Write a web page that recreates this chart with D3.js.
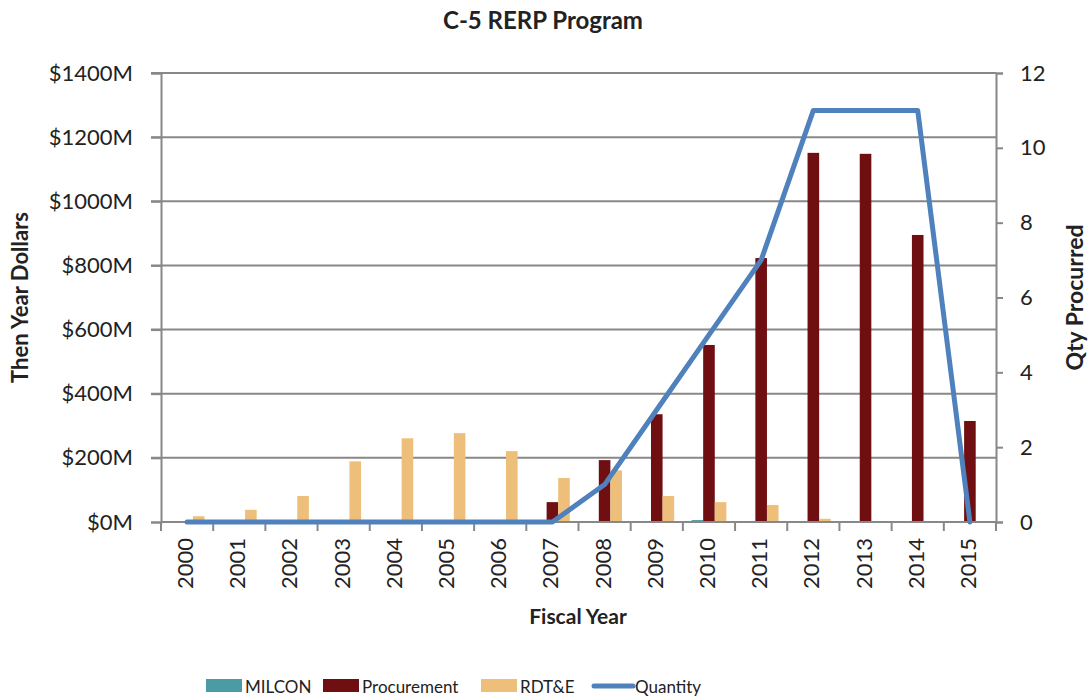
<!DOCTYPE html>
<html>
<head>
<meta charset="utf-8">
<script src="https://cdn.jsdelivr.net/npm/d3@7"></script>
<style>
  body { margin: 0; background: #fff; }
  svg text { font-family: Lato, "Open Sans", sans-serif; fill: #222; }
</style>
</head>
<body>
<svg width="1088" height="696"></svg>
<script>
const years = ["2000","2001","2002","2003","2004","2005","2006","2007","2008","2009","2010","2011","2012","2013","2014","2015"];
const milcon = [0,0,0,0,0,0,0,0,0,0,6,0,0,0,0,0];
const procurement = [0,0,0,0,0,0,0,62,193,336,552,823,1151,1148,895,315];
const rdte = [18,38,81,189,261,277,221,137,161,81,62,53,10,0,0,0];
const quantity = [0,0,0,0,0,0,0,0,1,3,5,7,11,11,11,0];
const dollarTicks = [0,200,400,600,800,1000,1200,1400];
const qtyTicks = [0,2,4,6,8,10,12];

const seriesNames = ["MILCON", "Procurement", "RDT&E"];
const seriesValues = [milcon, procurement, rdte];
const colors = {MILCON: "#4a9ba4", Procurement: "#6f0f12", "RDT&E": "#eebf7a", Quantity: "#4f81bd"};

const svg = d3.select('svg');
const margin = {left: 161, right: 92, top: 73, bottom: 174};
const width = 1088 - margin.left - margin.right;
const height = 696 - margin.top - margin.bottom;
const g = svg.append('g').attr('transform', `translate(${margin.left},${margin.top})`);

const x = d3.scaleBand().domain(years).range([0, width]);
const xInner = d3.scaleBand().domain(seriesNames).range([0, x.bandwidth() * 3 / 4.5]);
const y = d3.scaleLinear().domain([0, 1400]).range([height, 0]);
const yQ = d3.scaleLinear().domain([0, 12]).range([height, 0]);

const gridColor = '#888';

// gridlines
g.selectAll('line.grid').data(dollarTicks.filter(d => d > 0))
  .enter().append('line')
  .attr('class', 'grid')
  .attr('x1', -10).attr('x2', width)
  .attr('y1', d => y(d)).attr('y2', d => y(d))
  .attr('stroke', gridColor).attr('stroke-width', 2);

// left axis
const yAxis = g.append('g')
  .call(d3.axisLeft(y).tickValues(dollarTicks).tickSize(10).tickPadding(18).tickFormat(d => `$${d}M`));
yAxis.select('.domain').attr('stroke', gridColor).attr('stroke-width', 2);
yAxis.selectAll('line').attr('stroke', gridColor).attr('stroke-width', 2);
yAxis.selectAll('text').style('font-size', '22px').attr('fill', '#222');

// right axis
const yAxisR = g.append('g').attr('transform', `translate(${width},0)`)
  .call(d3.axisRight(yQ).tickValues(qtyTicks).tickSize(7).tickPadding(17));
yAxisR.select('.domain').attr('stroke', gridColor).attr('stroke-width', 2);
yAxisR.selectAll('line').attr('stroke', gridColor).attr('stroke-width', 2);
yAxisR.selectAll('text').style('font-size', '22px').attr('fill', '#222');

// bars
const groups = g.selectAll('g.year').data(years)
  .enter().append('g')
  .attr('class', 'year')
  .attr('transform', d => `translate(${x(d) + (x.bandwidth() - xInner.range()[1]) / 2},0)`);

groups.selectAll('rect')
  .data((d, i) => seriesNames.map((s, j) => ({series: s, value: seriesValues[j][i]})))
  .enter().append('rect')
  .attr('x', d => xInner(d.series))
  .attr('width', xInner.bandwidth())
  .attr('y', d => y(d.value))
  .attr('height', d => height - y(d.value))
  .attr('fill', d => colors[d.series]);

// x axis
const xAxis = g.append('g').attr('transform', `translate(0,${height})`);
xAxis.append('line').attr('x1', 0).attr('x2', width)
  .attr('stroke', gridColor).attr('stroke-width', 2);
xAxis.selectAll('line.tick').data(d3.range(years.length + 1))
  .enter().append('line')
  .attr('class', 'tick')
  .attr('x1', i => i * x.step()).attr('x2', i => i * x.step())
  .attr('y1', 0).attr('y2', 9)
  .attr('stroke', gridColor).attr('stroke-width', 2);
xAxis.selectAll('text').data(years)
  .enter().append('text')
  .attr('transform', d => `translate(${x(d) + x.bandwidth() / 2 + 6},16) rotate(-90)`)
  .attr('text-anchor', 'end')
  .style('font-size', '22px')
  .text(d => d);

// quantity line
const line = d3.line()
  .x((d, i) => x(years[i]) + x.bandwidth() / 2)
  .y(d => yQ(d));
g.append('path')
  .datum(quantity)
  .attr('d', line)
  .attr('fill', 'none')
  .attr('stroke', colors.Quantity)
  .attr('stroke-width', 5)
  .attr('stroke-linejoin', 'round')
  .attr('stroke-linecap', 'round');

// titles
svg.append('text')
  .attr('x', 543).attr('y', 29)
  .attr('text-anchor', 'middle')
  .style('font-size', '24px').style('font-weight', 'bold')
  .text('C-5 RERP Program');

svg.append('text')
  .attr('transform', `translate(28,${margin.top + height / 2}) rotate(-90)`)
  .attr('text-anchor', 'middle')
  .style('font-size', '22px').style('font-weight', 'bold')
  .text('Then Year Dollars');

svg.append('text')
  .attr('transform', `translate(1083,${margin.top + height / 2}) rotate(-90)`)
  .attr('text-anchor', 'middle')
  .style('font-size', '23px').style('font-weight', 'bold')
  .text('Qty Procurred');

svg.append('text')
  .attr('x', 578).attr('y', 624)
  .attr('text-anchor', 'middle')
  .style('font-size', '21px').style('font-weight', 'bold')
  .text('Fiscal Year');

// legend
const legendItems = [
  {name: 'MILCON', x: 206, type: 'rect'},
  {name: 'Procurement', x: 323, type: 'rect'},
  {name: 'RDT&E', x: 481, type: 'rect'},
  {name: 'Quantity', x: 594, type: 'line'}
];
const legend = svg.append('g').attr('transform', 'translate(0,686)');
legendItems.forEach(item => {
  if (item.type === 'rect') {
    legend.append('rect')
      .attr('x', item.x).attr('y', -7)
      .attr('width', 36).attr('height', 13)
      .attr('fill', colors[item.name]);
  } else {
    legend.append('line')
      .attr('x1', item.x).attr('x2', item.x + 39)
      .attr('y1', 0).attr('y2', 0)
      .attr('stroke', colors.Quantity).attr('stroke-width', 5)
      .attr('stroke-linecap', 'round');
  }
  legend.append('text')
    .attr('x', item.x + (item.type === 'rect' ? 39 : 41))
    .attr('y', 7)
    .style('font-size', '17px')
    .text(item.name);
});
</script>
</body>
</html>
